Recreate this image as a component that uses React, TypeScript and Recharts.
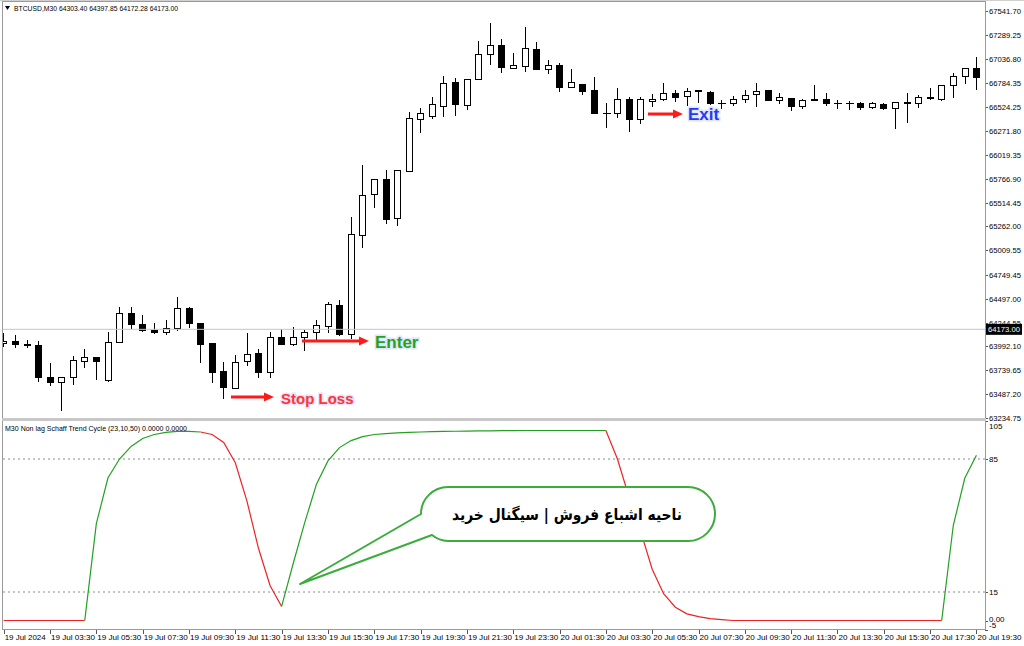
import React from 'react'
import { ComposedChart, Bar, Line, XAxis, YAxis, ReferenceLine } from 'recharts'

// BTCUSD M30, 19 Jul 2024 01:30 .. 20 Jul 2024 19:30 (85 bars)
const OPEN = [
  64028, 64053, 64018, 64007, 63672, 63619, 63669, 63841, 63883, 63637,
  64042, 64349, 64229, 64166, 64142, 64184, 64396, 64243, 64025, 63732,
  63549, 63838, 63919, 63725, 64095, 64018, 64095, 64142, 64211, 64431,
  64124, 65171, 65602, 65761, 65348, 65849, 66399, 66431, 66536, 66793,
  66547, 66819, 67083, 67182, 66942, 66960, 67136, 66925, 66970, 66741,
  66769, 66706, 66462, 66459, 66610, 66396, 66592, 66607, 66671, 66642,
  66702, 66688, 66573, 66565, 66607, 66660, 66706, 66600, 66618, 66536,
  66607, 66607, 66568, 66568, 66565, 66529, 66558, 66512, 66579, 66565,
  66628, 66607, 66759, 66854, 66935,
]
const HIGH = [
  64134, 64113, 64060, 64053, 63820, 63669, 63891, 63962, 63885, 64148,
  64413, 64413, 64325, 64237, 64272, 64515, 64409, 64245, 64028, 63831,
  63901, 64137, 63962, 64142, 64173, 64195, 64166, 64272, 64465, 64483,
  65358, 65912, 65764, 65859, 65861, 66473, 66515, 66632, 66854, 66829,
  66821, 67227, 67411, 67242, 67094, 67375, 67217, 67023, 66994, 66925,
  66771, 66846, 66565, 66730, 66628, 66628, 66663, 66783, 66706, 66724,
  66706, 66690, 66600, 66642, 66706, 66783, 66708, 66671, 66621, 66607,
  66759, 66677, 66600, 66592, 66582, 66582, 66571, 66584, 66677, 66653,
  66724, 66759, 66882, 66935, 67055,
]
const LOW = [
  63997, 63986, 63986, 63629, 63584, 63319, 63591, 63778, 63644, 63629,
  64039, 64184, 64159, 64131, 64124, 64166, 64195, 63831, 63619, 63443,
  63547, 63796, 63665, 63672, 64016, 64007, 63954, 64060, 64148, 64113,
  64078, 65047, 65471, 65295, 65277, 65847, 66261, 66409, 66431, 66441,
  66501, 66817, 66981, 66899, 66938, 66910, 66923, 66882, 66698, 66734,
  66660, 66463, 66311, 66423, 66275, 66353, 66536, 66600, 66592, 66547,
  66579, 66558, 66515, 66547, 66582, 66536, 66598, 66565, 66494, 66512,
  66604, 66547, 66512, 66501, 66501, 66512, 66501, 66300, 66370, 66529,
  66607, 66605, 66635, 66777, 66713,
]
const CLOSE = [
  64050, 64018, 64004, 63672, 63619, 63665, 63849, 63883, 63841, 64042,
  64349, 64229, 64166, 64142, 64184, 64396, 64237, 64018, 63725, 63560,
  63831, 63912, 63725, 64089, 64018, 64089, 64142, 64219, 64438, 64124,
  65179, 65595, 65761, 65341, 65859, 66409, 66462, 66558, 66783, 66558,
  66819, 67083, 67182, 66946, 66967, 67147, 66925, 66967, 66741, 66787,
  66698, 66465, 66459, 66610, 66396, 66607, 66614, 66671, 66635, 66698,
  66695, 66563, 66568, 66607, 66653, 66698, 66600, 66628, 66536, 66605,
  66605, 66565, 66563, 66563, 66523, 66565, 66518, 66582, 66570, 66628,
  66621, 66759, 66854, 66935, 66840,
]

// Non lag Schaff Trend Cycle (23,10,50), one value per bar
const STC = [
  0, 0, 0, 0, 0, 0, 0, 0,
  51, 75, 85, 91.6, 95.8, 97.9, 99, 99.5, 99.5, 99.2,
  97.9, 93.7, 83, 63, 38, 18.4, 7.4,
  30, 51.6, 71.6, 84, 91, 94.7, 96.8, 97.9, 98.4, 98.7,
  99, 99.2, 99.4, 99.5, 99.6, 99.7, 99.8, 99.8, 99.9, 99.9, 100, 100, 100, 100, 100, 100, 100, 100,
  85, 65, 47, 27, 14, 7, 3.5, 2, 1, 0.5,
  0, 0, 0, 0, 0, 0, 0, 0, 0, 0, 0, 0, 0, 0, 0, 0, 0, 0, 0,
  50, 75, 87,
]
// colour of the segment that ends on each bar: g = rising (green), r = falling (red)
const STC_SEG = (
  'r' + 'rrrrrrr' + 'gggggggggg' + 'rrrrrrr' +
  'gggggggggggggggggggggggggggg' + 'rrrrrrrrrrrrrrrrrrrrrrrrrrrrr' + 'ggg'
).split('')

const TIME_TICK_BARS = [0, 4, 8, 12, 16, 20, 24, 28, 32, 36, 40, 44, 48, 52, 56, 60, 64, 68, 72, 76, 80, 84]
const TIME_TICK_LABELS = [
  '19 Jul 2024', '19 Jul 03:30', '19 Jul 05:30', '19 Jul 07:30', '19 Jul 09:30', '19 Jul 11:30',
  '19 Jul 13:30', '19 Jul 15:30', '19 Jul 17:30', '19 Jul 19:30', '19 Jul 21:30', '19 Jul 23:30',
  '20 Jul 01:30', '20 Jul 03:30', '20 Jul 05:30', '20 Jul 07:30', '20 Jul 09:30', '20 Jul 11:30',
  '20 Jul 13:30', '20 Jul 15:30', '20 Jul 17:30', '20 Jul 19:30',
]
const PRICE_TICKS = [
  67541.70, 67289.25, 67036.80, 66784.35, 66524.25, 66271.80, 66019.35, 65766.90, 65514.45,
  65262.00, 65009.55, 64749.45, 64497.00, 64244.55, 63992.10, 63739.65, 63487.20, 63234.75,
]
const STC_TICKS = [105, 85, 15, 0, -5]
const STC_LEVELS = [85, 15]
const LAST_PRICE = 64173.0
const HEADER = 'BTCUSD,M30  64303.40 64397.85 64172.28 64173.00'
const IND_TITLE = 'M30 Non lag Schaff Trend Cycle  (23,10,50) 0.0000 0.0000'

const X_DOMAIN: [number, number] = [-0.06, 84.74]
const PRICE_DOMAIN: [number, number] = [63224.2, 67626.4]
const STC_DOMAIN: [number, number] = [-5, 105]

const AXIS_FONT = "'Liberation Sans', Arial, sans-serif"
const GREEN = '#23a023'
const RED = '#ee2222'
const FRAME = '#9a9a9a'

const candles = OPEN.map((o, i) => ({
  i, o, h: HIGH[i], l: LOW[i], c: CLOSE[i], range: [LOW[i], HIGH[i]],
}))

const stcRows = STC.map((v, i) => ({
  i,
  g: STC_SEG[i] === 'g' || STC_SEG[i + 1] === 'g' ? v : null,
  r: STC_SEG[i] === 'r' || STC_SEG[i + 1] === 'r' ? v : null,
}))

// eslint-disable-next-line @typescript-eslint/no-explicit-any
function Candle(props: any) {
  const { x, y, width, height, payload } = props
  if (x == null || !payload) return null
  const { o, h, l, c } = payload
  const cx = Math.round(x + width / 2) + 0.5
  const k = height / (h - l)
  const yOf = (v: number) => y + (h - v) * k
  const top = Math.round(yOf(Math.max(o, c))) + 0.5
  const bot = Math.round(yOf(Math.min(o, c))) + 0.5
  const up = c >= o
  return (
    <g>
      <line x1={cx} x2={cx} y1={Math.round(y)} y2={Math.round(y + height) + 1} stroke="#000" />
      {bot - top < 1 ? (
        <line x1={cx - 3.5} x2={cx + 4.5} y1={top} y2={top} stroke="#000" />
      ) : (
        <rect x={cx - 3} y={top} width={6} height={bot - top} fill={up ? '#fff' : '#000'} stroke="#000" />
      )}
    </g>
  )
}

// eslint-disable-next-line @typescript-eslint/no-explicit-any
function PriceTick({ x, y, payload }: any) {
  const yy = Math.round(y) + 0.5
  return (
    <g>
      <line x1={x} x2={x + 3} y1={yy} y2={yy} stroke="#555" />
      <text x={x + 4} y={y + 3} fontSize={8} textLength={32} lengthAdjust="spacingAndGlyphs" fontFamily={AXIS_FONT} fill="#000">
        {Number(payload.value).toFixed(2)}
      </text>
    </g>
  )
}

// eslint-disable-next-line @typescript-eslint/no-explicit-any
function StcTick({ x, y, payload }: any) {
  const v = Number(payload.value)
  const yy = Math.round(y) + 0.5
  const label = v === 0 ? '0.00' : String(v)
  const dy = v === 105 ? 8 : v === -5 ? -2 : v === 0 ? 1 : 3
  return (
    <g>
      <line x1={x} x2={x + 3} y1={yy} y2={yy} stroke="#555" />
      <text x={x + 4} y={y + dy} fontSize={8} fontFamily={AXIS_FONT} fill="#000">{label}</text>
    </g>
  )
}

// eslint-disable-next-line @typescript-eslint/no-explicit-any
function TimeTick({ x, y, payload }: any) {
  const idx = TIME_TICK_BARS.indexOf(Number(payload.value))
  const xx = Math.round(x) + 0.5
  return (
    <g>
      <line x1={xx} x2={xx} y1={y} y2={y + 4} stroke="#555" />
      <text x={x + 1} y={y + 10} fontSize={8} textLength={idx === 0 ? 41 : 44} lengthAdjust="spacingAndGlyphs" fontFamily={AXIS_FONT} fill="#000">
        {TIME_TICK_LABELS[idx]}
      </text>
    </g>
  )
}

// eslint-disable-next-line @typescript-eslint/no-explicit-any
function PriceBadge({ viewBox }: any) {
  if (!viewBox) return null
  const x = viewBox.x + viewBox.width
  const y = viewBox.y
  return (
    <g>
      <rect x={x + 1} y={y - 5.5} width={36} height={11} fill="#000" />
      <text x={x + 3} y={y + 3} fontSize={8} textLength={32} lengthAdjust="spacingAndGlyphs" fontFamily={AXIS_FONT} fill="#fff">
        {LAST_PRICE.toFixed(2)}
      </text>
    </g>
  )
}

function Arrow({ x1, x2, y }: { x1: number; x2: number; y: number }) {
  return (
    <g>
      <line x1={x1} x2={x2 - 8} y1={y} y2={y} stroke="#ff1a1a" strokeWidth={3} />
      <path d={`M ${x2 - 10} ${y - 4.5} L ${x2} ${y} L ${x2 - 10} ${y + 4.5} Z`} fill="#ff1a1a" />
    </g>
  )
}

function Tag({ x, y, size, color, text }: { x: number; y: number; size: number; color: string; text: string }) {
  return (
    <text
      x={x}
      y={y}
      fontSize={size}
      fontWeight="bold"
      fontFamily="'Liberation Sans', Arial, sans-serif"
      fill={color}
      stroke="#e4e4ff"
      strokeWidth={3}
      paintOrder="stroke"
      dominantBaseline="central"
    >
      {text}
    </text>
  )
}

export default function App() {
  return (
    <div style={{ position: 'absolute', left: 0, top: 0, width: 1024, height: 646, background: '#fff', overflow: 'hidden' }}>
      <div style={{ position: 'absolute', left: 0, top: 0 }}>
        <ComposedChart width={1024} height={422} data={candles} margin={{ top: 3, right: 0, bottom: 3, left: 3 }}>
          <XAxis dataKey="i" type="number" domain={X_DOMAIN} allowDataOverflow hide />
          <YAxis
            orientation="right"
            type="number"
            domain={PRICE_DOMAIN}
            allowDataOverflow
            ticks={PRICE_TICKS}
            interval={0}
            width={39}
            tickSize={0}
            tickMargin={0}
            tickLine={false}
            axisLine={false}
            tick={<PriceTick />}
          />
          <ReferenceLine
            y={LAST_PRICE}
            stroke="#c4c4d4"
            label={(p: any) => <PriceBadge viewBox={p.viewBox} />}
          />
          <Bar dataKey="range" barSize={7} shape={(p: any) => <Candle {...p} />} isAnimationActive={false} />
        </ComposedChart>
      </div>
      <div style={{ position: 'absolute', left: 0, top: 420 }}>
        <ComposedChart width={1024} height={226} data={stcRows} margin={{ top: 1, right: 0, bottom: 0, left: 3 }}>
          <XAxis
            dataKey="i"
            type="number"
            domain={X_DOMAIN}
            allowDataOverflow
            ticks={TIME_TICK_BARS}
            interval={0}
            height={16}
            tickSize={0}
            tickMargin={0}
            tickLine={false}
            axisLine={false}
            tick={<TimeTick />}
          />
          <YAxis
            orientation="right"
            type="number"
            domain={STC_DOMAIN}
            allowDataOverflow
            ticks={STC_TICKS}
            interval={0}
            width={39}
            tickSize={0}
            tickMargin={0}
            tickLine={false}
            axisLine={false}
            tick={<StcTick />}
          />
          {STC_LEVELS.map(v => (
            <ReferenceLine key={v} y={v} stroke="#8c8c8c" strokeDasharray="2 3" />
          ))}
          <Line dataKey="r" type="linear" stroke={RED} strokeWidth={1.2} dot={false} connectNulls={false} isAnimationActive={false} />
          <Line dataKey="g" type="linear" stroke={GREEN} strokeWidth={1.2} dot={false} connectNulls={false} isAnimationActive={false} />
        </ComposedChart>
      </div>
      <svg width={1024} height={646} style={{ position: 'absolute', left: 0, top: 0, pointerEvents: 'none' }}>
        {/* window frame and panel separator */}
        <line x1={0} x2={1024} y1={0.5} y2={0.5} stroke="#d0d0d0" />
        <line x1={2.5} x2={2.5} y1={1} y2={630} stroke={FRAME} />
        <line x1={985.5} x2={985.5} y1={1} y2={630} stroke={FRAME} />
        <line x1={2} x2={986} y1={1.5} y2={1.5} stroke={FRAME} />
        <rect x={2} y={418} width={984} height={3} fill="#c8c8c8" />
        <line x1={2} x2={986} y1={629.5} y2={629.5} stroke={FRAME} />
        <path d="M 5 6 L 10 6 L 7.5 10 Z" fill="#000" />
        <text x={14} y={11} fontSize={8} textLength={164} lengthAdjust="spacingAndGlyphs" fontFamily={AXIS_FONT} fill="#000">{HEADER}</text>
        <text x={5} y={431} fontSize={8} textLength={182} lengthAdjust="spacingAndGlyphs" fontFamily={AXIS_FONT} fill="#000">{IND_TITLE}</text>

        {/* annotations */}
        <Arrow x1={302} x2={369} y={341} />
        <Tag x={375} y={342} size={17} color="#1fa51f" text="Enter" />
        <Arrow x1={231} x2={274} y={397} />
        <Tag x={281} y={398} size={15} color="#ff3535" text="Stop Loss" />
        <Arrow x1={648} x2={683} y={114} />
        <Tag x={688} y={114} size={17} color="#1e3cf5" text="Exit" />

        <path
          d="M 300 584 L 421 514 A 27 27 0 0 1 448 487 L 688 487 A 27 27 0 0 1 688 541 L 448 541 A 27 27 0 0 1 432 535 Z"
          fill="#fff"
          stroke="#3cac3c"
          strokeWidth={2}
          strokeLinejoin="round"
        />
        <text
          x={682}
          y={514}
          fontSize={16}
          fontWeight="bold"
          fontFamily="'DejaVu Sans', sans-serif"
          direction="rtl"
          textAnchor="start"
          textLength={230}
          lengthAdjust="spacingAndGlyphs"
          dominantBaseline="central"
          fill="#000"
        >
          ناحیه اشباع فروش | سیگنال خرید
        </text>
      </svg>
    </div>
  )
}
